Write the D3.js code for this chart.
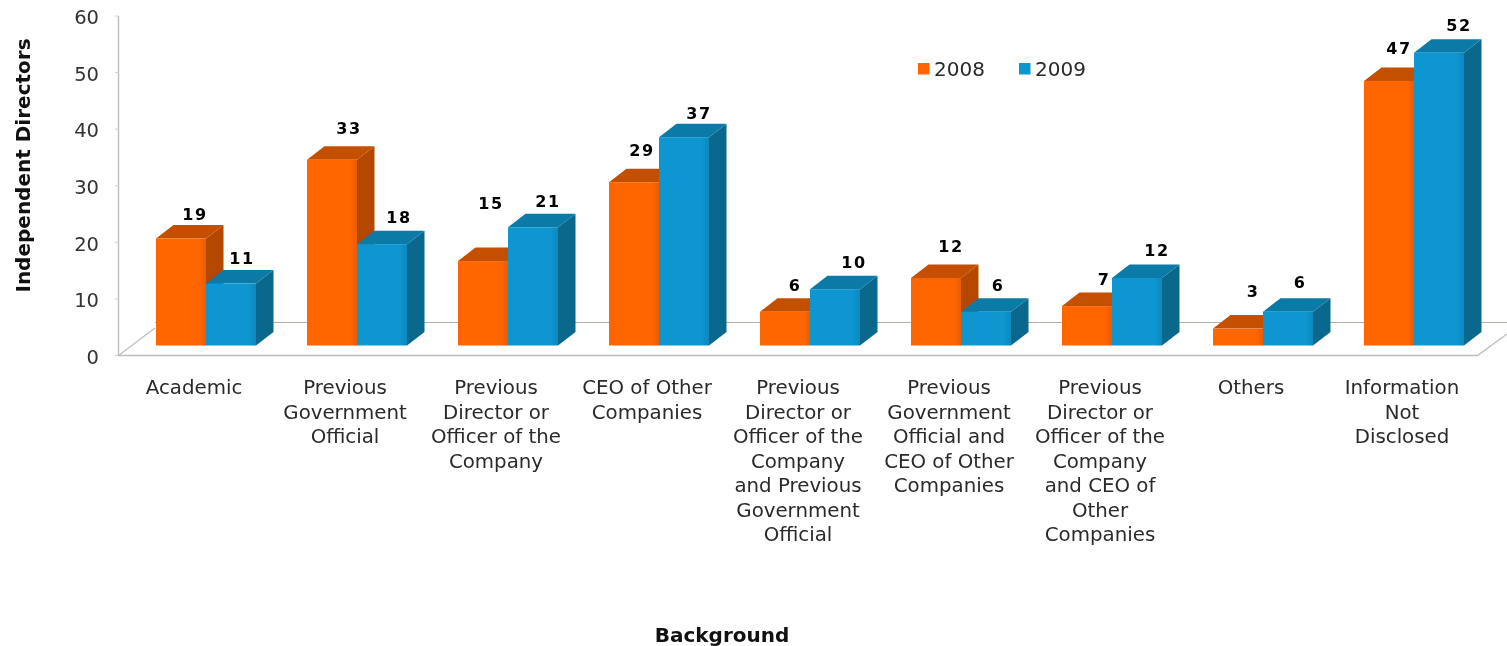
<!DOCTYPE html>
<html>
<head>
<meta charset="utf-8">
<script src="https://cdnjs.cloudflare.com/ajax/libs/d3/7.8.5/d3.min.js"></script>
<style>
html,body{margin:0;padding:0;background:#fff;overflow:hidden}
svg{filter:blur(0.4px)}
text{font-family:"DejaVu Sans",Verdana,sans-serif;fill:#2a2a2a}
</style>
</head>
<body>
<script>
const categories = [
  ["Academic"],
  ["Previous","Government","Official"],
  ["Previous","Director or","Officer of the","Company"],
  ["CEO of Other","Companies"],
  ["Previous","Director or","Officer of the","Company","and Previous","Government","Official"],
  ["Previous","Government","Official and","CEO of Other","Companies"],
  ["Previous","Director or","Officer of the","Company","and CEO of","Other","Companies"],
  ["Others"],
  ["Information","Not","Disclosed"]
];
const values2008 = [19,33,15,29,6,12,7,3,47];
const values2009 = [11,18,21,37,10,6,12,6,52];
const yTicks = [0,10,20,30,40,50,60];
const seriesNames = ["2008","2009"];
const frontColors = ["#ff6600","#0d96cf"];
const topColors = ["#c44f00","#0b7aa6"];
const sideColors = ["#b54800","#09688c"];
// hand-placed data label offsets from each bar's top centre, as in the original
const labelShift2008 = [[14,-24.5],[17,-32],[8,-58],[8,-32],[10,-27],[15,-32],[17,-27],[15,-38],[10,-33]];
const labelShift2009 = [[11,-26],[17,-27],[15,-26],[15,-24.5],[19,-27],[12,-27],[20,-28],[12,-30],[20,-28]];

const W=1507,H=646;
const svg=d3.select("body").append("svg").attr("width",W).attr("height",H);
const defs=svg.append("defs");
frontColors.forEach((c,i)=>{
  const g=defs.append("linearGradient").attr("id","front"+i);
  g.append("stop").attr("offset","0").attr("stop-color",c);
  g.append("stop").attr("offset","0.85").attr("stop-color",c);
  g.append("stop").attr("offset","1").attr("stop-color",d3.color(c).darker(0.25));
});

const x=d3.scaleBand().domain(d3.range(categories.length)).range([118.5,1477.5]);
const y=d3.scaleLinear().domain([0,60]).range([345.5,7.7]);
const barW=50, dx=17.5, dy=13.5;
const barX=i=>x(i)+37.5;

// floor and walls
const floorY=355.5, backY=322.5;
const floor=svg.append("g").attr("fill","none");
floor.append("path").attr("d",`M118.5,16V${floorY}H1477.5L1507,334`).attr("stroke","#bdbdbd").attr("stroke-width",1.4);
floor.append("path").attr("d",`M118.5,${floorY}L155,328`).attr("stroke","#bcc0c8").attr("stroke-width",1.3);
floor.append("path").attr("d",`M155,${backY}H1507`).attr("stroke","#b3aea6").attr("stroke-width",1.2);

// y axis labels and ticks
const yLabelY=d3.scaleLinear().domain([0,60]).range([357,17]);
svg.append("g").selectAll("text").data(yTicks).join("text")
  .attr("x",99).attr("y",d=>yLabelY(d)).attr("dy","0.36em")
  .attr("text-anchor","end").attr("font-size",19.5).style("fill","#333").text(d=>d);
const tickY=d3.scaleLinear().domain([0,60]).range([floorY,16]);
svg.append("g").selectAll("line").data(yTicks).join("line")
  .attr("x1",115).attr("x2",118.5).attr("y1",d=>tickY(d)).attr("y2",d=>tickY(d))
  .attr("stroke","#d0d0d0").attr("stroke-width",1);

// bars
const drawBar=(g,i,v,s)=>{
  const x0=barX(i)+s*barW, y0=y(v), b=y(0);
  g.append("path").attr("fill",sideColors[s])
    .attr("d",`M${x0+barW},${y0}L${x0+barW+dx},${y0-dy}V${b-dy}L${x0+barW},${b}Z`);
  g.append("path").attr("fill",topColors[s])
    .attr("d",`M${x0},${y0}L${x0+dx},${y0-dy}H${x0+barW+dx}L${x0+barW},${y0}Z`);
  g.append("rect").attr("x",x0).attr("y",y0).attr("width",barW).attr("height",b-y0)
    .attr("fill",`url(#front${s})`);
};
const bars=svg.append("g");
categories.forEach((c,i)=>{
  drawBar(bars,i,values2008[i],0);
  drawBar(bars,i,values2009[i],1);
});

// data labels
[[values2008,labelShift2008],[values2009,labelShift2009]].forEach(([vals,shift],s)=>{
  svg.append("g").selectAll("text").data(vals).join("text")
    .attr("x",(d,i)=>barX(i)+s*barW+barW/2+shift[i][0])
    .attr("y",(d,i)=>y(d)+shift[i][1]+6)
    .attr("text-anchor","middle").attr("font-size",16).attr("font-weight","bold")
    .attr("letter-spacing",1.5).style("fill","#000").text(d=>d);
});

// category labels
const lab=svg.append("g").attr("font-size",19.8).attr("text-anchor","middle");
lab.selectAll("text").data(categories).join("text")
  .attr("x",(d,i)=>x(i)+x.bandwidth()/2)
  .attr("y",394)
  .each(function(lines){
    d3.select(this).selectAll("tspan").data(lines).join("tspan")
      .attr("x",d3.select(this).attr("x"))
      .attr("dy",(d,j)=>j?24.5:0)
      .text(d=>d);
  });

// axis titles
svg.append("text").attr("x",722).attr("y",642).attr("text-anchor","middle")
  .attr("font-size",20).attr("font-weight","bold").style("fill","#111").text("Background");
svg.append("text").attr("transform","translate(30,165.5) rotate(-90)").attr("text-anchor","middle")
  .attr("font-size",20).attr("font-weight","bold").style("fill","#111").text("Independent Directors");

// legend
const legendX=[918,1019];
const leg=svg.append("g");
seriesNames.forEach((n,i)=>{
  leg.append("rect").attr("x",legendX[i]).attr("y",63).attr("width",11.5).attr("height",11.5).attr("fill",frontColors[i]);
  leg.append("text").attr("x",legendX[i]+16).attr("y",76).attr("font-size",20).text(n);
});
</script>
</body>
</html>
